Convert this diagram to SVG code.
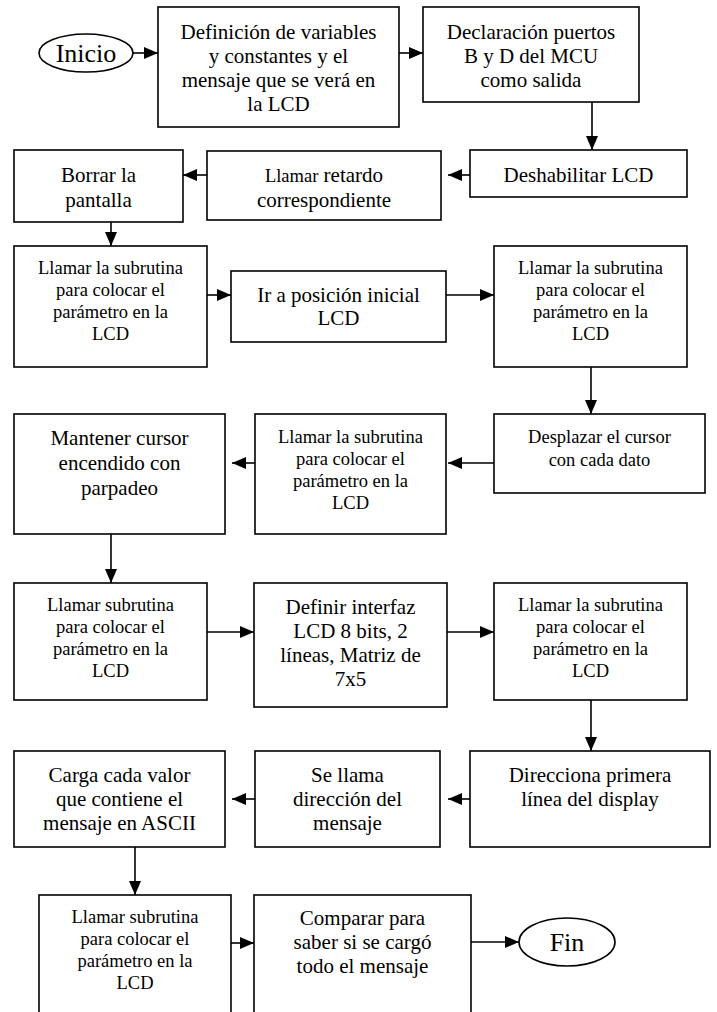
<svg xmlns="http://www.w3.org/2000/svg" width="717" height="1012" viewBox="0 0 717 1012">
<style>
.n rect,.n ellipse{fill:#fff;stroke:#000;stroke-width:1.6}
text{fill:#000;text-anchor:middle}
.l{font-size:21px}
.s{font-size:18.5px}
.t{font-size:26px}
.c line{stroke:#000;stroke-width:1.6;marker-end:url(#ah)}
</style>
<defs>
<marker id="ah" markerWidth="14" markerHeight="12" refX="14" refY="6" orient="auto" markerUnits="userSpaceOnUse"><path d="M0,0 L14,6 L0,12 z" fill="#000"/></marker>
</defs>
<rect width="717" height="1012" style="fill:#fff;stroke:none"/>
<g font-family="Liberation Serif, Tinos, Times New Roman, DejaVu Serif, serif">
<g id="inicio" class="n"><ellipse cx="86" cy="53" rx="47" ry="19"/><text class="t" x="86" y="62">Inicio</text></g>
<g id="n1" class="n"><rect x="158" y="7" width="241" height="120"/><text class="l" x="278.5" y="39">Definición de variables</text><text class="l" x="278.5" y="63">y constantes y el</text><text class="l" x="278.5" y="87">mensaje que se verá en</text><text class="l" x="278.5" y="111">la LCD</text></g>
<g id="n2" class="n"><rect x="423" y="7" width="216" height="95"/><text class="l" x="531" y="39">Declaración puertos</text><text class="l" x="531" y="63">B y D del MCU</text><text class="l" x="531" y="87">como salida</text></g>
<g id="n3" class="n"><rect x="470" y="150" width="217" height="47"/><text class="l" x="578.5" y="182">Deshabilitar LCD</text></g>
<g id="n4" class="n"><rect x="207" y="151" width="234" height="69"/><text class="l" x="324" y="182"><tspan class="s">Llamar</tspan> retardo</text><text class="l" x="324" y="207">correspondiente</text></g>
<g id="n5" class="n"><rect x="14" y="150" width="169" height="72"/><text class="l" x="98.5" y="182">Borrar la</text><text class="l" x="98.5" y="207">pantalla</text></g>
<g id="n6" class="n"><rect x="14" y="246" width="193" height="121"/><text class="s" x="110.5" y="274">Llamar la subrutina</text><text class="s" x="110.5" y="296">para colocar el</text><text class="s" x="110.5" y="318">parámetro en la</text><text class="s" x="110.5" y="340">LCD</text></g>
<g id="n7" class="n"><rect x="231" y="271" width="215" height="71"/><text class="l" x="338.5" y="302">Ir a posición inicial</text><text class="l" x="338.5" y="325">LCD</text></g>
<g id="n8" class="n"><rect x="494" y="246" width="193" height="121"/><text class="s" x="590.5" y="274">Llamar la subrutina</text><text class="s" x="590.5" y="296">para colocar el</text><text class="s" x="590.5" y="318">parámetro en la</text><text class="s" x="590.5" y="340">LCD</text></g>
<g id="n9" class="n"><rect x="494" y="414" width="211" height="79"/><text class="s" x="599.5" y="443">Desplazar el cursor</text><text class="s" x="599.5" y="466">con cada dato</text></g>
<g id="n10" class="n"><rect x="255" y="414" width="191" height="120"/><text class="s" x="350.5" y="443">Llamar la subrutina</text><text class="s" x="350.5" y="465">para colocar el</text><text class="s" x="350.5" y="487">parámetro en la</text><text class="s" x="350.5" y="509">LCD</text></g>
<g id="n11" class="n"><rect x="14" y="414" width="211" height="120"/><text class="l" x="119.5" y="445">Mantener cursor</text><text class="l" x="119.5" y="470">encendido con</text><text class="l" x="119.5" y="495">parpadeo</text></g>
<g id="n12" class="n"><rect x="14" y="583" width="193" height="117"/><text class="s" x="110.5" y="611">Llamar subrutina</text><text class="s" x="110.5" y="633">para colocar el</text><text class="s" x="110.5" y="655">parámetro en la</text><text class="s" x="110.5" y="677">LCD</text></g>
<g id="n13" class="n"><rect x="254" y="583" width="193" height="124"/><text class="l" x="350.5" y="614">Definir interfaz</text><text class="l" x="350.5" y="638">LCD 8 bits, 2</text><text class="l" x="350.5" y="662">líneas, Matriz de</text><text class="l" x="350.5" y="686">7x5</text></g>
<g id="n14" class="n"><rect x="494" y="583" width="193" height="117"/><text class="s" x="590.5" y="611">Llamar la subrutina</text><text class="s" x="590.5" y="633">para colocar el</text><text class="s" x="590.5" y="655">parámetro en la</text><text class="s" x="590.5" y="677">LCD</text></g>
<g id="n15" class="n"><rect x="470" y="751" width="240" height="96"/><text class="l" x="590" y="782">Direcciona primera</text><text class="l" x="590" y="806">línea del display</text></g>
<g id="n16" class="n"><rect x="255" y="751" width="185" height="96"/><text class="l" x="347.5" y="782">Se llama</text><text class="l" x="347.5" y="806">dirección del</text><text class="l" x="347.5" y="830">mensaje</text></g>
<g id="n17" class="n"><rect x="14" y="751" width="211" height="96"/><text class="l" x="119.5" y="782">Carga cada valor</text><text class="l" x="119.5" y="806">que contiene el</text><text class="l" x="119.5" y="830">mensaje en ASCII</text></g>
<g id="n18" class="n"><rect x="39" y="895" width="192" height="130"/><text class="s" x="135" y="923">Llamar subrutina</text><text class="s" x="135" y="945">para colocar el</text><text class="s" x="135" y="967">parámetro en la</text><text class="s" x="135" y="989">LCD</text></g>
<g id="n19" class="n"><rect x="254" y="895" width="217" height="130"/><text class="l" x="362.5" y="925">Comparar para</text><text class="l" x="362.5" y="949">saber si se cargó</text><text class="l" x="362.5" y="973">todo el mensaje</text></g>
<g id="fin" class="n"><ellipse cx="567" cy="942" rx="48" ry="24"/><text class="t" x="567" y="951">Fin</text></g>
</g>
<g id="connectors" class="c">
<line x1="133" y1="53" x2="158" y2="53"/>
<line x1="399" y1="53" x2="423" y2="53"/>
<line x1="592" y1="102" x2="592" y2="150"/>
<line x1="470" y1="175" x2="448" y2="175"/>
<line x1="207" y1="175" x2="183" y2="175"/>
<line x1="111" y1="222" x2="111" y2="246"/>
<line x1="207" y1="295" x2="231" y2="295"/>
<line x1="446" y1="295" x2="494" y2="295"/>
<line x1="591" y1="367" x2="591" y2="414"/>
<line x1="494" y1="463" x2="448" y2="463"/>
<line x1="255" y1="463" x2="232" y2="463"/>
<line x1="111" y1="534" x2="111" y2="583"/>
<line x1="207" y1="632" x2="254" y2="632"/>
<line x1="447" y1="632" x2="494" y2="632"/>
<line x1="591" y1="700" x2="591" y2="751"/>
<line x1="470" y1="799" x2="448" y2="799"/>
<line x1="255" y1="799" x2="232" y2="799"/>
<line x1="135" y1="847" x2="135" y2="895"/>
<line x1="231" y1="943" x2="254" y2="943"/>
<line x1="471" y1="942" x2="519" y2="942"/>
</g>
</svg>
